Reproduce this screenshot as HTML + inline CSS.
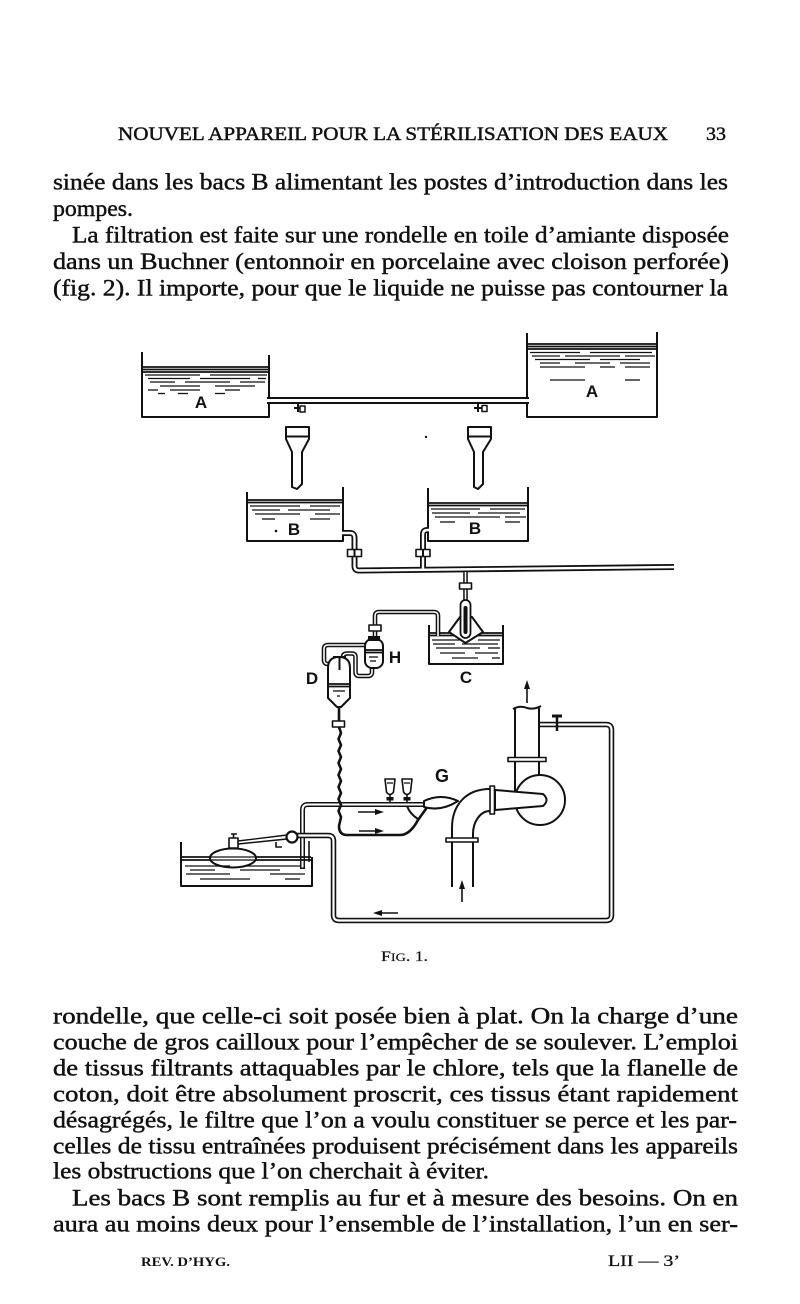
<!DOCTYPE html>
<html><head><meta charset="utf-8">
<style>
html,body{margin:0;padding:0;background:#fff;}
svg{display:block}
.t{font-family:"Liberation Serif",serif;font-size:23.5px;fill:#111;stroke:#111;stroke-width:.45}
.h{font-family:"Liberation Serif",serif;font-size:19px;fill:#111;stroke:#111;stroke-width:.45}
.l{font-family:"Liberation Sans",sans-serif;font-weight:bold;font-size:17px;fill:#111}
.s{fill:none;stroke:#111;stroke-width:2;stroke-linejoin:round}
.f{fill:#fff;stroke:#111;stroke-width:2;stroke-linejoin:round}
.po{fill:none;stroke:#111;stroke-width:6}
.pi{fill:none;stroke:#fff;stroke-width:2.4}
.to{fill:none;stroke:#111;stroke-width:4.6}
.ti{fill:none;stroke:#fff;stroke-width:1.6}
.w{stroke:#111;stroke-width:1.3}
.wh{stroke:#111;stroke-width:1.8}
</style></head><body>
<svg width="800" height="1304" viewBox="0 0 800 1304">
<rect width="800" height="1304" fill="#fff"/>

<!-- header -->
<text class="h" x="118" y="140" textLength="550" lengthAdjust="spacingAndGlyphs">NOUVEL APPAREIL POUR LA STÉRILISATION DES EAUX</text>
<text class="h" x="706" y="140" textLength="20" lengthAdjust="spacingAndGlyphs">33</text>

<!-- top paragraph -->
<text class="t" x="53" y="189.5" textLength="675" lengthAdjust="spacingAndGlyphs">sinée dans les bacs B alimentant les postes d’introduction dans les</text>
<text class="t" x="53" y="216" textLength="80" lengthAdjust="spacingAndGlyphs">pompes.</text>
<text class="t" x="72" y="242.5" textLength="657" lengthAdjust="spacingAndGlyphs">La filtration est faite sur une rondelle en toile d’amiante disposée</text>
<text class="t" x="53" y="269" textLength="676" lengthAdjust="spacingAndGlyphs">dans un Buchner (entonnoir en porcelaine avec cloison perforée)</text>
<text class="t" x="53" y="295.5" textLength="675" lengthAdjust="spacingAndGlyphs">(fig. 2). Il importe, pour que le liquide ne puisse pas contourner la</text>

<!-- ===== DIAGRAM ===== -->
<path class="po" d="M267,400.5 H529" style="stroke-width:7"/>
<path class="pi" d="M265,400.5 H531" style="stroke-width:3"/>

<!-- Tank A left -->
<path class="s" d="M142,352 V417 H269 V403"/>
<path class="s" d="M269,355 V398"/>
<g class="wh">
<line x1="143" y1="367" x2="268" y2="367"/><line x1="143" y1="369.5" x2="268" y2="369.5"/><line x1="143" y1="372" x2="268" y2="372"/>
</g>
<g class="w">
<line x1="145" y1="375" x2="200" y2="375"/><line x1="210" y1="375" x2="267" y2="375"/>
<line x1="148" y1="378.5" x2="190" y2="378.5"/><line x1="200" y1="378.5" x2="250" y2="378.5"/><line x1="258" y1="378.5" x2="266" y2="378.5"/>
<line x1="150" y1="382" x2="175" y2="382"/><line x1="185" y1="382" x2="230" y2="382"/><line x1="240" y1="382" x2="265" y2="382"/>
<line x1="160" y1="386" x2="200" y2="386"/><line x1="215" y1="386" x2="255" y2="386"/>
<line x1="148" y1="390" x2="158" y2="390"/><line x1="170" y1="390" x2="200" y2="390"/><line x1="225" y1="390" x2="240" y2="390"/>
<line x1="158" y1="393.5" x2="165" y2="393.5"/><line x1="178" y1="393.5" x2="188" y2="393.5"/><line x1="215" y1="393.5" x2="225" y2="393.5"/>
</g>
<text class="l" x="201" y="408" text-anchor="middle">A</text>

<!-- Tank A right -->
<path class="s" d="M527,333 V398"/>
<path class="s" d="M527,403 V417 H657 V332"/>
<g class="wh">
<line x1="528" y1="344" x2="656" y2="344"/><line x1="528" y1="346.5" x2="656" y2="346.5"/><line x1="528" y1="349" x2="656" y2="349"/>
</g>
<g class="w">
<line x1="530" y1="352.5" x2="580" y2="352.5"/><line x1="590" y1="352.5" x2="652" y2="352.5"/>
<line x1="532" y1="356" x2="560" y2="356"/><line x1="565" y1="356" x2="620" y2="356"/><line x1="625" y1="356" x2="655" y2="356"/>
<line x1="535" y1="359.5" x2="590" y2="359.5"/><line x1="600" y1="359.5" x2="640" y2="359.5"/>
<line x1="540" y1="363" x2="560" y2="363"/><line x1="575" y1="363" x2="610" y2="363"/><line x1="620" y1="363" x2="650" y2="363"/>
<line x1="540" y1="367" x2="585" y2="367"/><line x1="600" y1="367" x2="615" y2="367"/><line x1="625" y1="367" x2="650" y2="367"/>
<line x1="550" y1="380" x2="585" y2="380"/><line x1="625" y1="380" x2="640" y2="380"/>
</g>
<text class="l" x="592" y="397" text-anchor="middle">A</text>

<!-- valves on A pipe -->
<path class="s" d="M298,403 V412 M294,408 H300"/>
<rect x="300" y="406" width="5" height="6" class="f" style="stroke-width:1.5"/>
<path class="s" d="M478,403 V412 M474,408 H482"/>
<rect x="482" y="405.5" width="5" height="6" class="f" style="stroke-width:1.5"/>

<!-- funnels -->
<path class="f" d="M286,427 H309 V439 L302,452 V484 L297,489 L292,487 V452 L286,439 Z"/>
<path class="s" d="M287,436.5 H308"/>
<path class="f" d="M468,427 H491 V439 L483,452 V484 L478,489 L474,487 V452 L468,439 Z"/>
<path class="s" d="M469,436.5 H490"/>
<circle cx="426" cy="437" r="1.2" fill="#111"/>

<!-- Tank B left -->
<path class="s" d="M247,492 V541 H343 V487"/>
<g class="wh"><line x1="248" y1="500" x2="342" y2="500"/><line x1="248" y1="502.5" x2="342" y2="502.5"/></g>
<g class="w">
<line x1="250" y1="506" x2="300" y2="506"/><line x1="310" y1="506" x2="340" y2="506"/>
<line x1="252" y1="510" x2="280" y2="510"/><line x1="288" y1="510" x2="330" y2="510"/>
<line x1="255" y1="514" x2="300" y2="514"/><line x1="315" y1="514" x2="340" y2="514"/>
<line x1="262" y1="519" x2="275" y2="519"/><line x1="310" y1="519" x2="330" y2="519"/>
</g>
<text class="l" x="294" y="535" text-anchor="middle">B</text>
<circle cx="276" cy="531" r="1.3" fill="#111"/>

<!-- Tank B right -->
<path class="s" d="M428,488 V541 H528 V487"/>
<g class="wh"><line x1="429" y1="503" x2="527" y2="503"/><line x1="429" y1="505.5" x2="527" y2="505.5"/></g>
<g class="w">
<line x1="431" y1="509" x2="480" y2="509"/><line x1="490" y1="509" x2="525" y2="509"/>
<line x1="432" y1="513" x2="470" y2="513"/><line x1="478" y1="513" x2="520" y2="513"/>
<line x1="435" y1="517" x2="500" y2="517"/><line x1="505" y1="517" x2="526" y2="517"/>
<line x1="440" y1="522" x2="455" y2="522"/><line x1="505" y1="522" x2="520" y2="522"/>
</g>
<text class="l" x="475" y="534" text-anchor="middle">B</text>

<!-- pipes from B to main -->
<path class="po" d="M342,533 H350 Q354.5,533 354.5,538 V566 Q354.5,570.5 359,570.5 L674,567"/>
<path class="pi" d="M341,533 H350 Q354.5,533 354.5,538 V566 Q354.5,570.5 359,570.5 L676,567"/>
<path class="po" d="M429,530 H427.5 Q423,530 423,534.5 V568"/>
<path class="pi" d="M430,530 H427.5 Q423,530 423,534.5 V571"/>
<rect x="347.5" y="549.5" width="14" height="7" class="f" style="stroke-width:1.6"/>
<line x1="354.5" y1="549" x2="354.5" y2="557" stroke="#111" stroke-width="2"/>
<rect x="416" y="549.5" width="14" height="7" class="f" style="stroke-width:1.6"/>
<line x1="423" y1="549" x2="423" y2="557" stroke="#111" stroke-width="2"/>

<!-- connection to C -->
<path class="to" d="M465.5,571 V601"/>
<path class="ti" d="M465.5,572 V601"/>
<rect x="459.5" y="583" width="12" height="6" class="f" style="stroke-width:1.6"/>

<!-- C tank -->
<path class="s" d="M429,625 V664 H503 V625"/>
<g class="wh"><line x1="430" y1="633" x2="502" y2="633"/><line x1="430" y1="635.5" x2="502" y2="635.5"/></g>
<g class="w">
<line x1="432" y1="640" x2="470" y2="640"/><line x1="478" y1="640" x2="500" y2="640"/>
<line x1="433" y1="644" x2="455" y2="644"/><line x1="462" y1="644" x2="498" y2="644"/>
<line x1="436" y1="648" x2="480" y2="648"/><line x1="488" y1="648" x2="500" y2="648"/>
<line x1="440" y1="653" x2="465" y2="653"/><line x1="475" y1="653" x2="498" y2="653"/>
<line x1="452" y1="658" x2="478" y2="658"/><line x1="492" y1="658" x2="500" y2="658"/>
</g>
<path class="f" d="M460,617 L449,632 L465.5,643 L483,632 L472,617 Z"/>
<rect x="460.5" y="600" width="10" height="38" rx="5" class="f" style="stroke-width:1.8"/>
<rect x="463.5" y="606" width="4" height="28" rx="2" fill="#111"/>
<text class="l" x="466" y="683" text-anchor="middle">C</text>

<!-- pipe C to H -->
<path class="to" d="M438,636 V616 Q438,612 434,612 H379 Q375,612 375,616 V639"/>
<path class="ti" d="M438,636 V616 Q438,612 434,612 H379 Q375,612 375,616 V639"/>
<rect x="369" y="625" width="12" height="6" class="f" style="stroke-width:1.6"/>

<!-- loops between H and D -->
<path class="to" d="M366,645 H328 Q324,645 324,649 V660 Q324,664 328,664 H331"/>
<path class="ti" d="M367,645 H328 Q324,645 324,649 V660 Q324,664 328,664 H332"/>
<path class="to" d="M343,658 V657 Q343,653.5 347,653.5 H352 Q355.5,653.5 355.5,657 V672 Q355.5,676 359,676 H368 Q372,676 372,672 V667"/>
<path class="ti" d="M343,659 V657 Q343,653.5 347,653.5 H352 Q355.5,653.5 355.5,657 V672 Q355.5,676 359,676 H368 Q372,676 372,672 V666"/>

<!-- H bottle -->
<rect x="365" y="639" width="18" height="29" rx="7" class="f"/>
<rect x="368" y="636" width="12" height="5" fill="#111"/>
<g class="wh"><line x1="366" y1="650" x2="382" y2="650"/><line x1="366" y1="652.5" x2="382" y2="652.5"/></g>
<g class="w"><line x1="369" y1="657" x2="378" y2="657"/><line x1="370" y1="661" x2="376" y2="661"/></g>
<text class="l" x="395" y="663" text-anchor="middle">H</text>

<!-- D bottle -->
<path class="f" d="M328,668 Q328,657 339,657 Q350,657 350,668 V698 L341,707 H337 L328,698 Z"/>
<path class="s" d="M333,657 H346 M339.5,657 V670"/>
<g class="wh"><line x1="329" y1="684" x2="349" y2="684"/><line x1="329" y1="686.5" x2="349" y2="686.5"/></g>
<g class="w"><line x1="333" y1="691" x2="345" y2="691"/><line x1="337" y1="696" x2="340" y2="696"/></g>
<text class="l" x="312" y="684" text-anchor="middle">D</text>
<path class="s" d="M339,707 V722" style="stroke-width:2.6"/>
<rect x="332.5" y="721" width="12" height="6" class="f" style="stroke-width:1.6"/>

<!-- ejector top pipe & left vertical -->
<path class="po" d="M302.5,869 V810 Q302.5,804.5 308,804.5 H426" style="stroke-width:5"/>
<path class="pi" d="M302.5,867.5 V810 Q302.5,804.5 308,804.5 H428" style="stroke-width:2"/>

<!-- wavy D line and chamber -->
<path class="s" d="M339,727 L341,733 L338.5,739 L341,745 L338.5,751 L341,757 L338.5,763 L341,769 L338.5,775 L341,781 L338.5,787 L341,793 L338.5,799 L341,805 L338.5,811 L341,817 L339,826 Q339,835 347,835 H400 Q410,835 418,820 L428,806" style="stroke-width:2.6"/>
<path class="s" d="M407,806 Q410,814 418,819"/>
<path class="f" d="M424,801 Q441,793 458,801 Q441,812 424,807 Z"/>
<!-- cups -->
<path class="f" d="M385,779 H395 L393.5,792 Q390,797 386.5,792 Z" style="stroke-width:1.6"/>
<path class="s" d="M390,795 V802" style="stroke-width:1.6"/>
<rect x="386.5" y="797" width="7" height="3.5" fill="#111"/>
<path class="f" d="M402,779 H412 L410.5,792 Q407,797 403.5,792 Z" style="stroke-width:1.6"/>
<path class="s" d="M407,795 V802" style="stroke-width:1.6"/>
<rect x="403.5" y="797" width="7" height="3.5" fill="#111"/>
<path class="w" d="M387,783 H393 M404,783 H410"/>
<!-- chamber arrows -->
<line x1="358" y1="812" x2="378" y2="812" stroke="#111" stroke-width="1.6"/>
<polygon points="384,812 375,809 375,815" fill="#111"/>
<line x1="359" y1="831" x2="378" y2="831" stroke="#111" stroke-width="1.6"/>
<polygon points="384,831 375,828 375,834" fill="#111"/>
<text class="l" x="442" y="782" text-anchor="middle" style="font-size:18px">G</text>

<!-- return pipe loop -->
<path class="po" d="M297,835.5 H328 Q333.5,835.5 333.5,841 V915 Q333.5,920.5 339,920.5 H606 Q611.5,920.5 611.5,915 V730 Q611.5,724.5 606,724.5 H538" style="stroke-width:5.5"/>
<path class="pi" d="M296,835.5 H328 Q333.5,835.5 333.5,841 V915 Q333.5,920.5 339,920.5 H606 Q611.5,920.5 611.5,915 V730 Q611.5,724.5 606,724.5 H537" style="stroke-width:2.2"/>
<line x1="398" y1="913" x2="379" y2="913" stroke="#111" stroke-width="1.6"/>
<polygon points="373,913 382,910 382,916" fill="#111"/>
<line x1="557" y1="716" x2="557" y2="731" stroke="#111" stroke-width="2.5"/>
<rect x="552" y="714.5" width="10" height="3" fill="#111"/>

<!-- elbow and inlet -->
<path class="s" d="M452,887 V828 C452,805 466,789 490,789"/>
<path class="s" d="M473,887 V834 C473,822 480,811 490,811"/>
<rect x="446" y="838" width="32" height="4" class="f" style="stroke-width:1.6"/>
<rect x="490" y="786" width="4.5" height="28" class="f" style="stroke-width:1.6"/>
<line x1="462" y1="902" x2="462" y2="886" stroke="#111" stroke-width="1.6"/>
<polygon points="462,880 459,889 465,889" fill="#111"/>

<!-- pump -->
<path class="s" d="M515,708 V800"/>
<path class="s" d="M539,708 V777"/>
<path class="s" d="M513,709 Q520,705 527,708 Q534,710 541,706"/>
<rect x="508" y="757.5" width="38" height="4" class="f" style="stroke-width:1.6"/>
<circle cx="540" cy="800" r="25" class="f"/>
<path class="f" d="M495,790 L543,794 Q550,800 543,806 L495,810 Z"/>
<line x1="527" y1="703" x2="527" y2="686" stroke="#111" stroke-width="1.6"/>
<polygon points="527,680 524,689 530,689" fill="#111"/>

<!-- bottom tank with float -->
<path class="s" d="M181,842 V886 H312 V857"/>
<g class="wh"><line x1="182" y1="857" x2="311" y2="857"/><line x1="182" y1="860" x2="311" y2="860"/></g>
<ellipse cx="233" cy="858" rx="23" ry="9.5" class="f"/>
<g class="w">
<line x1="211" y1="857" x2="255" y2="857"/><line x1="211" y1="860" x2="255" y2="860"/>
<line x1="185" y1="866" x2="230" y2="866"/><line x1="245" y1="866" x2="300" y2="866"/>
<line x1="190" y1="870" x2="215" y2="870"/><line x1="240" y1="870" x2="280" y2="870"/>
<line x1="186" y1="874" x2="230" y2="874"/><line x1="270" y1="874" x2="305" y2="874"/>
<line x1="200" y1="879" x2="250" y2="879"/><line x1="285" y1="879" x2="300" y2="879"/>
</g>
<rect x="229" y="838" width="9" height="10" class="f" style="stroke-width:1.6"/>
<path class="s" d="M231,834 H237 M233.5,834 V838" style="stroke-width:1.6"/>
<path class="s" d="M238,841 L287,835 M238,844 L287,839" style="stroke-width:1.4"/>
<path class="s" d="M276,842 V847 H282" style="stroke-width:1.6"/>
<line x1="309" y1="841" x2="309" y2="862" stroke="#111" stroke-width="1.6"/>
<circle cx="292" cy="837" r="5.5" class="f" style="stroke-width:2.2"/>

<!-- caption -->
<text x="381" y="961" style="font-family:'Liberation Serif',serif;font-size:15px;fill:#111;stroke:#111;stroke-width:.2" textLength="47" lengthAdjust="spacingAndGlyphs">F<tspan style="font-size:12px">IG</tspan>. 1.</text>

<!-- bottom paragraph -->
<text class="t" x="53" y="1023.5" textLength="685" lengthAdjust="spacingAndGlyphs">rondelle, que celle-ci soit posée bien à plat. On la charge d’une</text>
<text class="t" x="53" y="1049.5" textLength="685" lengthAdjust="spacingAndGlyphs">couche de gros cailloux pour l’empêcher de se soulever. L’emploi</text>
<text class="t" x="53" y="1075.5" textLength="685" lengthAdjust="spacingAndGlyphs">de tissus filtrants attaquables par le chlore, tels que la flanelle de</text>
<text class="t" x="53" y="1101.5" textLength="685" lengthAdjust="spacingAndGlyphs">coton, doit être absolument proscrit, ces tissus étant rapidement</text>
<text class="t" x="53" y="1127.5" textLength="684" lengthAdjust="spacingAndGlyphs">désagrégés, le filtre que l’on a voulu constituer se perce et les par-</text>
<text class="t" x="53" y="1153.5" textLength="685" lengthAdjust="spacingAndGlyphs">celles de tissu entraînées produisent précisément dans les appareils</text>
<text class="t" x="53" y="1178.5" textLength="436" lengthAdjust="spacingAndGlyphs">les obstructions que l’on cherchait à éviter.</text>
<text class="t" x="72" y="1205.5" textLength="666" lengthAdjust="spacingAndGlyphs">Les bacs B sont remplis au fur et à mesure des besoins. On en</text>
<text class="t" x="53" y="1231.5" textLength="685" lengthAdjust="spacingAndGlyphs">aura au moins deux pour l’ensemble de l’installation, l’un en ser-</text>

<!-- footer -->
<text x="141" y="1266" style="font-family:'Liberation Serif',serif;font-size:13px;font-weight:bold;fill:#111" textLength="89" lengthAdjust="spacingAndGlyphs">REV. D’HYG.</text>
<text x="608" y="1266" style="font-family:'Liberation Serif',serif;font-size:16px;fill:#111;stroke:#111;stroke-width:.3" textLength="72" lengthAdjust="spacingAndGlyphs">LII — 3’</text>
</svg>
</body></html>
